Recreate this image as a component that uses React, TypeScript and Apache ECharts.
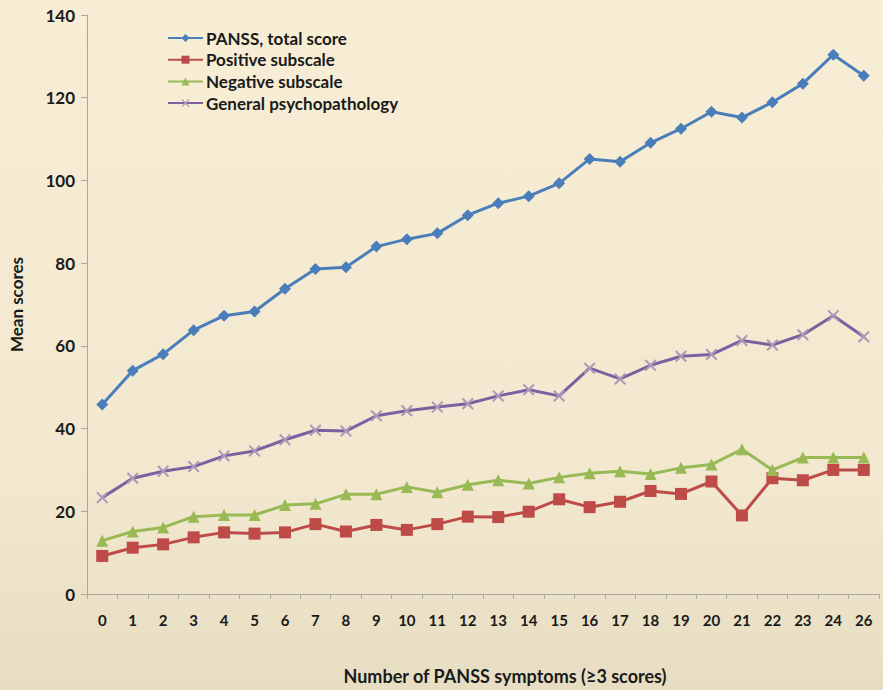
import React, { useEffect, useRef } from "react";
import * as echarts from "echarts";

const categories = ["0","1","2","3","4","5","6","7","8","9","10","11","12","13","14","15","16","17","18","19","20","21","22","23","24","26"];
const panssTotal = [45.8, 54, 58, 63.8, 67.3, 68.3, 73.8, 78.6, 79, 84, 85.8, 87.2, 91.6, 94.5, 96.2, 99.3, 105.2, 104.5, 109.1, 112.5, 116.6, 115.2, 118.9, 123.4, 130.4, 125.3];
const positive = [9.2, 11.2, 12, 13.7, 14.9, 14.6, 14.9, 16.9, 15.1, 16.7, 15.5, 16.9, 18.7, 18.6, 19.9, 22.9, 21, 22.3, 24.9, 24.2, 27.2, 19, 28, 27.5, 30, 30];
const negative = [12.9, 15.1, 16.1, 18.7, 19.1, 19.1, 21.5, 21.8, 24.1, 24.1, 25.9, 24.6, 26.4, 27.5, 26.7, 28.2, 29.2, 29.7, 29, 30.5, 31.3, 35, 30, 33, 33, 33];
const general = [23.3, 28, 29.7, 30.8, 33.4, 34.6, 37.3, 39.6, 39.4, 43.1, 44.3, 45.2, 46, 47.9, 49.4, 47.9, 54.6, 52, 55.3, 57.5, 57.9, 61.3, 60.2, 62.7, 67.3, 62.2];
const yTicks = { min: 0, max: 140, interval: 20 };

const FONT = "Lato";
const X_SYMBOL = "path://M0,1.2 L1.2,0 L5,3.8 L8.8,0 L10,1.2 L6.2,5 L10,8.8 L8.8,10 L5,6.2 L1.2,10 L0,8.8 L3.8,5 Z";

export default function App() {
  const ref = useRef<HTMLDivElement>(null);
  useEffect(() => {
    if (!ref.current) return;
    const chart = echarts.init(ref.current, undefined, { renderer: "svg" });
    const mk = (name: string, data: number[], color: string, symbol: string, size: number, symColor?: string) => ({
      name,
      type: "line",
      data,
      symbol,
      symbolSize: size,
      showSymbol: true,
      lineStyle: { color, width: 3 },
      itemStyle: { color: symColor || color },
      emphasis: { disabled: true },
    });
    chart.setOption({
      animation: false,
      backgroundColor: new echarts.graphic.LinearGradient(0, 0, 0, 1, [
        { offset: 0, color: "#f8eed6" },
        { offset: 0.7, color: "#f1e8cf" },
        { offset: 1, color: "#e6ddc2" },
      ]),
      textStyle: { fontFamily: FONT },
      legend: {
        orient: "vertical",
        left: 162,
        top: 24.5,
        itemWidth: 35,
        itemHeight: 10,
        itemGap: 4.7,
        textStyle: { fontFamily: FONT, fontWeight: "bold", fontSize: 17, lineHeight: 17, color: "#1a1a1a", padding: [0, 0, 0, -2] },
        data: ["PANSS, total score", "Positive subscale", "Negative subscale", "General psychopathology"],
      },
      grid: { left: 87, right: 4, top: 15, bottom: 94, containLabel: false },
      xAxis: {
        type: "category",
        data: categories,
        boundaryGap: true,
        name: "Number of PANSS symptoms (\u22653 scores)",
        nameLocation: "middle",
        nameGap: 73,
        nameTextStyle: { fontFamily: FONT, fontWeight: "bold", fontSize: 18, color: "#1a1a1a", padding: [0, 0, 0, 44] },
        axisLine: { lineStyle: { color: "#a8a8a0", width: 1 } },
        axisTick: { show: true, alignWithLabel: false, length: 5, lineStyle: { color: "#a8a8a0" } },
        axisLabel: { fontFamily: FONT, fontWeight: "bold", fontSize: 15, color: "#1a1a1a", margin: 18, interval: 0 },
        splitLine: { show: false },
      },
      yAxis: {
        type: "value",
        min: yTicks.min,
        max: yTicks.max,
        interval: yTicks.interval,
        name: "Mean scores",
        nameLocation: "middle",
        nameGap: 62,
        nameRotate: 90,
        nameTextStyle: { fontFamily: FONT, fontWeight: "bold", fontSize: 17, color: "#1a1a1a" },
        axisLine: { show: true, lineStyle: { color: "#a8a8a0", width: 1 } },
        axisTick: { show: true, inside: false, length: 6, lineStyle: { color: "#a8a8a0" } },
        axisLabel: { fontFamily: FONT, fontWeight: "bold", fontSize: 17, color: "#1a1a1a", margin: 12 },
        splitLine: { show: false },
      },
      series: [
        mk("PANSS, total score", panssTotal, "#4a7ebb", "diamond", 12),
        mk("Positive subscale", positive, "#be4b48", "rect", 12),
        mk("Negative subscale", negative, "#98b954", "triangle", 12),
        mk("General psychopathology", general, "#7d60a0", X_SYMBOL, 12, "#a99bb8"),
      ],
    });
    return () => chart.dispose();
  }, []);
  return <div ref={ref} style={{ position: "absolute", left: 0, top: 0, width: 883, height: 690 }} />;
}
